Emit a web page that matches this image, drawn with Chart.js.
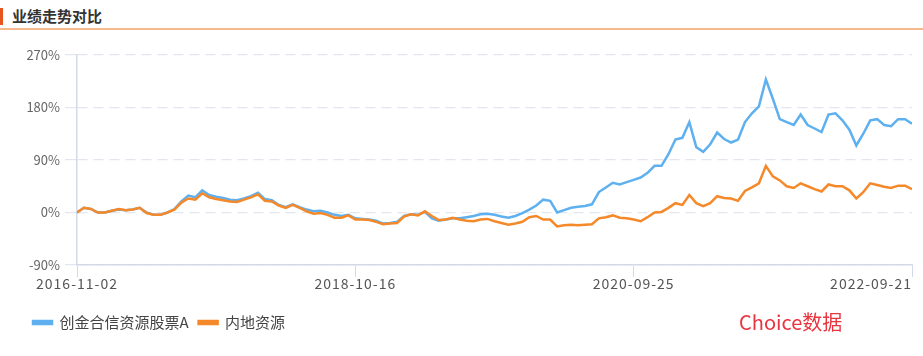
<!DOCTYPE html>
<html>
<head>
<meta charset="utf-8">
<script src="https://cdn.jsdelivr.net/npm/chart.js@4.4.0/dist/chart.umd.min.js"></script>
<style>
  html, body { margin: 0; padding: 0; background: #fff; }
  #wrap { position: relative; width: 923px; height: 356px; overflow: hidden; font-family: "Microsoft YaHei", "Noto Sans CJK SC", sans-serif; }
  #bar { position: absolute; left: 0; top: 8px; width: 3px; height: 17px; background: #e8541e; }
  #title { position: absolute; left: 12px; top: 6px; font-size: 15px; font-weight: bold; color: #333; line-height: 20px; }
  #rule { position: absolute; left: 0; top: 28px; width: 923px; height: 2px; background: #f6b98c; }
  #mark { position: absolute; left: 739px; top: 308px; font-size: 20px; color: #e8353f; line-height: 27px; }
  canvas { position: absolute; left: 0; top: 0; }
</style>
</head>
<body>
<div id="wrap">
  <div id="bar"></div>
  <div id="title">业绩走势对比</div>
  <div id="rule"></div>
  <canvas id="myChart" width="923" height="356"></canvas>
  <div id="mark">Choice数据</div>
</div>
<script>
// series, one value per ~7px step (121 points)
const fundName = "创金合信资源股票A";
const indexName = "内地资源";

const fund = [
  0, 8, 6, 0, 0, 3, 5, 4, 5, 8,
  0, -4, -4, 0, 6, 19, 29, 26, 38, 30,
  27, 25, 22, 21, 24, 28, 34, 23, 21, 13,
  9, 14, 9, 5, 2, 3, 0, -4, -6, -4,
  -10, -11, -12, -14, -19, -18, -16, -6, -3, -4,
  1, -10, -14, -12, -10, -10, -8, -6, -3, -2,
  -4, -7, -9, -6, -1, 5, 12, 22, 20, 0,
  4, 8, 10, 11, 14, 35, 43, 51, 48, 52,
  56, 60, 68, 80, 80, 100, 125, 128, 155, 112,
  104, 117, 137, 126, 120, 125, 155, 170, 182, 228,
  195, 160, 155, 150, 168, 150, 144, 138, 168, 170,
  158, 142, 115, 135, 158, 160, 150, 148, 160, 160,
  152
];

const mainland = [
  0, 8, 6, 0, 0, 3, 6, 4, 5, 8,
  -1, -4, -4, 0, 5, 17, 24, 22, 33, 26,
  23, 21, 19, 18, 22, 26, 31, 20, 19, 12,
  8, 13, 8, 2, -2, -1, -4, -9, -9, -5,
  -12, -12, -13, -16, -20, -19, -18, -7, -3, -5,
  2, -6, -13, -12, -9, -12, -14, -15, -12, -11,
  -15, -18, -21, -19, -16, -8, -6, -12, -12, -24,
  -22, -21, -22, -21, -20, -10, -8, -5, -9, -10,
  -12, -15, -8, 0, 1, 8, 16, 13, 30, 16,
  11, 16, 28, 25, 24, 20, 37, 43, 50, 80,
  62, 55, 45, 42, 50, 45, 40, 36, 48, 45,
  45, 38, 24, 35, 50, 47, 44, 42, 46, 46,
  40
];

const tickIdx = [0, 40, 80, 120];
const tickLabels = ["2016-11-02", "2018-10-16", "2020-09-25", "2022-09-21"];

const yMin = -90, yMax = 270, yStep = 90;

const xLabels = {
  id: "xLabels",
  afterDraw(chart) {
    const ctx = chart.ctx;
    const sc = chart.scales.x;
    ctx.save();
    ctx.font = '14px "Microsoft YaHei", "Noto Sans CJK SC", sans-serif';
    ctx.letterSpacing = "1px";
    ctx.fillStyle = "#555";
    ctx.textBaseline = "middle";
    tickIdx.forEach(function (v, k) {
      const px = sc.getPixelForValue(v);
      const w = ctx.measureText(tickLabels[k]).width;
      if (px + w / 2 > chart.width) {
        ctx.textAlign = "right";
        ctx.fillText(tickLabels[k], px, 284);
      } else {
        ctx.textAlign = "center";
        ctx.fillText(tickLabels[k], px, 284);
      }
    });
    ctx.restore();
  }
};

const ctx1 = document.getElementById("myChart").getContext("2d");
const myChart = new Chart(ctx1, {
  type: "line",
  data: {
    datasets: [
      {
        label: fundName,
        data: fund.map((v, i) => ({ x: i, y: v })),
        borderColor: "#5eb0ef",
        backgroundColor: "#5eb0ef",
        borderWidth: 2.5,
        pointRadius: 0,
        tension: 0,
        order: 1
      },
      {
        label: indexName,
        data: mainland.map((v, i) => ({ x: i, y: v })),
        borderColor: "#f5892a",
        backgroundColor: "#f5892a",
        borderWidth: 2.5,
        pointRadius: 0,
        tension: 0,
        order: 0
      }
    ]
  },
  options: {
    responsive: false,
    animation: false,
    layout: { padding: { left: 23, right: 11, top: 55, bottom: 16 } },
    plugins: {
      tooltip: { enabled: false },
      legend: {
        position: "bottom",
        align: "start",
        labels: {
          boxWidth: 19,
          boxHeight: 3,
          padding: 10,
          color: "#444",
          font: { size: 15, family: '"Microsoft YaHei", "Noto Sans CJK SC", sans-serif' },
          sort: (a, b) => a.datasetIndex - b.datasetIndex
        }
      }
    },
    scales: {
      x: {
        type: "linear",
        min: 0,
        max: fund.length - 1,
        afterBuildTicks: function (scale) {
          scale.ticks = tickIdx.map(v => ({ value: v }));
        },
        afterFit: function (scale) { scale.height = 40; },
        ticks: { display: false },
        grid: { drawOnChartArea: false, tickLength: 12, color: "#d3d9e6" },
        border: { color: "#d3d9e6", width: 1.5 }
      },
      y: {
        min: yMin,
        max: yMax,
        afterFit: function (scale) { scale.width = 54; },
        ticks: {
          stepSize: yStep,
          padding: 5,
          color: "#666",
          font: { size: 13, family: '"Microsoft YaHei", "Noto Sans CJK SC", sans-serif' },
          callback: v => v + "%"
        },
        grid: { color: "#e3e6ee", tickLength: 12, lineWidth: 1.2 },
        border: { color: "#d3d9e6", width: 1.5, dash: [10, 6] }
      }
    }
  },
  plugins: [xLabels]
});
</script>
</body>
</html>
